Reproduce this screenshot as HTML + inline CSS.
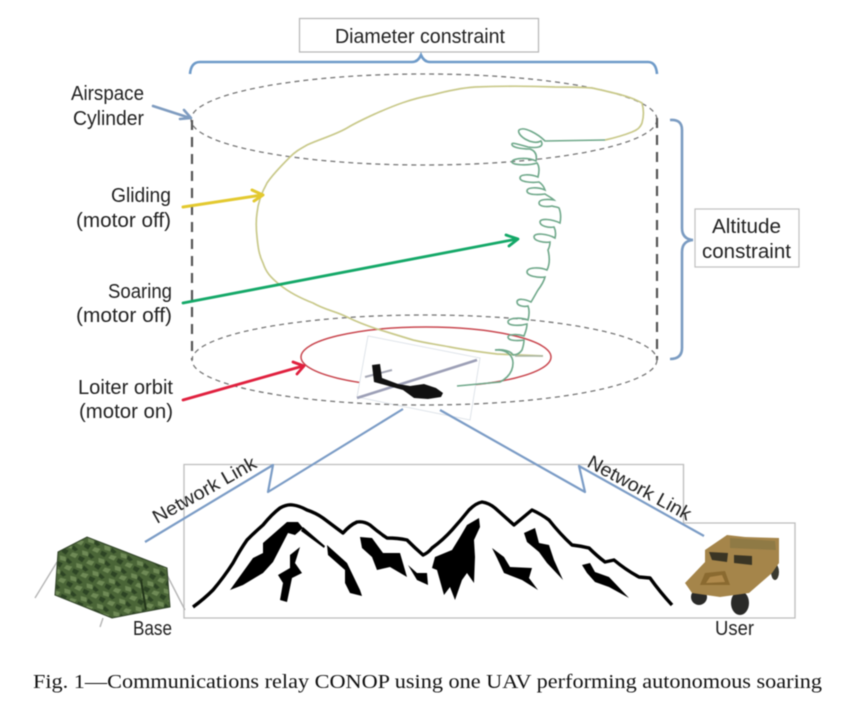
<!DOCTYPE html>
<html><head><meta charset="utf-8"><style>
html,body{margin:0;padding:0;background:#fff;width:864px;height:705px;overflow:hidden}
svg{display:block;filter:blur(.4px)}
text{font-family:"Liberation Sans",sans-serif;font-size:20px;fill:#222}
</style></head><body>
<svg width="864" height="705" viewBox="0 0 864 705" xmlns="http://www.w3.org/2000/svg">
<rect width="864" height="705" fill="#fff"/>
<!-- scene box -->
<path d="M184,618V464.5H683.5V523H795V618Z" fill="none" stroke="#bdbdbd" stroke-width="1.3"/>
<!-- boxes -->
<rect x="299.5" y="18.5" width="239" height="33.5" fill="#fff" stroke="#b5b5b5" stroke-width="1.2"/>
<text x="335" y="43" textLength="170" lengthAdjust="spacingAndGlyphs">Diameter constraint</text>
<rect x="695" y="209" width="104" height="58" fill="#fff" stroke="#c0c0c0" stroke-width="1.2"/>
<text x="712" y="233" textLength="69" lengthAdjust="spacingAndGlyphs">Altitude</text>
<text x="702" y="258" textLength="89" lengthAdjust="spacingAndGlyphs">constraint</text>
<!-- braces -->
<path d="M190,74Q191,62 200,62H412Q418,62 421,55Q424,62 430,62H648Q656,62 657,74" fill="none" stroke="#6f9bc9" stroke-width="2.6"/>
<path d="M670,120Q682,119 682,130V228Q682,239 693,240Q682,241 682,252V348Q682,359 670,359" fill="none" stroke="#7b9cc2" stroke-width="2.6"/>
<!-- top ellipse + verticals -->
<ellipse cx="424" cy="119.5" rx="233" ry="45.5" fill="none" stroke="#777" stroke-width="1.3" stroke-dasharray="5 4"/>
<path d="M192,120V360M657,118V360" fill="none" stroke="#555" stroke-width="2.2" stroke-dasharray="10 7"/>
<!-- red orbit -->
<ellipse cx="426" cy="357" rx="125" ry="30" fill="none" stroke="#c9474f" stroke-width="1.5"/>
<!-- aircraft image -->
<polygon points="368,336 480,358 470,420 357,397" fill="#fff" stroke="#dfe4ea" stroke-width="1"/>
<path d="M357,398L477,360" stroke="#9c9fb6" stroke-width="2.6" fill="none"/>
<path d="M365,377L392,370" stroke="#a5a7b5" stroke-width="2" fill="none"/>
<path d="M372,365L380,364L382,378L398,384L410,386L424,384L436,388L443,393L441,397L428,399L414,398L403,390L385,385L374,382Z" fill="#111"/>
<!-- bottom ellipse -->
<ellipse cx="424.5" cy="360" rx="232.5" ry="45" fill="none" stroke="#777" stroke-width="1.3" stroke-dasharray="5 4"/>
<!-- glide trajectory -->
<path d="M543,356L497,354C480,352 465,350 450,347C435,344 425,343 413,340C400,336 390,333 377,329C365,325 357,322 347,317C335,311 325,310 313,303C300,298 290,293 280,285C270,277 266,272 263,263C259,255 258,247 257,237C256,228 256,220 257,213C258,203 262,192 267,183C273,174 282,165 290,157C296,151 300,149 307,145C320,139 335,135 347,128C357,122 366,118 377,113C393,106 410,99 432,95C447,91 460,88 475,87C500,86 530,86 555,87C570,87 580,87 592,88C610,92 630,96 642,103C644,110 644,116 642,123C640,128 637,130 632,132C622,136 614,138 605,140" fill="none" stroke="#c9c98a" stroke-width="1.7"/>
<!-- spiral -->
<path d="M605,140L545,141C538,134 524,126 519,130C516,135 532,146 541,141C545,148 535,148 528,147C520,145 512,142 512,144C511,147 520,149 530,149C536,151 537,156 536,161C528,157 512,158 512,162C512,165 528,166 537,163C540,167 539,173 538,177C530,174 520,174 520,178C520,182 532,183 539,182C542,184 544,187 545,190C538,187 527,187 527,191C527,195 538,195 545,194C548,196 552,198 554,200C548,199 539,199 539,203C539,207 548,207 552,206C555,207 558,207 559,208C561,213 561,218 560,223C552,219 540,218 540,222C540,226 548,228 554,227C556,231 556,234 555,238C548,234 534,232 534,237C534,241 544,243 550,242C550,246 549,248 548,250C550,258 550,264 547,270C540,267 527,267 527,272C527,276 538,278 545,277C544,281 541,286 538,290C535,295 533,299 531,302C525,299 517,298 517,302C517,306 524,307 528,306C530,311 529,316 528,320C520,317 508,318 508,322C508,326 520,326 527,324C527,329 525,333 524,336C518,334 508,334 508,337C508,341 518,341 524,340C524,344 523,347 522,350C520,353 517,355 513,355C511,351 503,349 495,350" fill="none" stroke="#6fa88a" stroke-width="1.6"/>
<path d="M495,350C507,349 513,356 513,363C513,369 510,374 507,377C504,380 502,381 500,382L457,386" fill="none" stroke="#6fa88a" stroke-width="1.6"/>
<path d="M515,356H543" stroke="#a9b5a3" stroke-width="1.4" fill="none"/>
<!-- arrows -->
<g fill="none" stroke-linecap="round" stroke-linejoin="round">
<path d="M153,106L190,118M180,119L191,118L184,110" stroke="#7f9cc0" stroke-width="2.6"/>
<path d="M183,207L262,195M252,190L263,195L254,201" stroke="#e3c92f" stroke-width="3"/>
<path d="M183,303L517,239M506,235L518,239L509,246" stroke="#14a868" stroke-width="2.8"/>
<path d="M183,400L303,366M293,362L304,366L297,374" stroke="#e0203e" stroke-width="2.8"/>
</g>
<!-- labels -->
<text x="71" y="100" textLength="73" lengthAdjust="spacingAndGlyphs">Airspace</text>
<text x="73" y="125" textLength="71" lengthAdjust="spacingAndGlyphs">Cylinder</text>
<text x="111" y="202" textLength="60" lengthAdjust="spacingAndGlyphs">Gliding</text>
<text x="76" y="227" textLength="95" lengthAdjust="spacingAndGlyphs">(motor off)</text>
<text x="108" y="298" textLength="64" lengthAdjust="spacingAndGlyphs">Soaring</text>
<text x="76" y="322" textLength="96" lengthAdjust="spacingAndGlyphs">(motor off)</text>
<text x="78" y="394" textLength="95" lengthAdjust="spacingAndGlyphs">Loiter orbit</text>
<text x="79" y="418" textLength="94" lengthAdjust="spacingAndGlyphs">(motor on)</text>
<!-- network links -->
<path d="M145,542L273,465L268,492L403,409" fill="none" stroke="#7b9cc6" stroke-width="2.2" stroke-linejoin="round"/>
<path d="M440,410L585,492L579,466L704,536" fill="none" stroke="#7b9cc6" stroke-width="2.2" stroke-linejoin="round"/>
<text transform="translate(157,524) rotate(-29.5)" textLength="116" lengthAdjust="spacingAndGlyphs" style="font-size:19px">Network Link</text>
<text transform="translate(586,466) rotate(28.5)" textLength="115" lengthAdjust="spacingAndGlyphs" style="font-size:19px">Network Link</text>
<!-- mountains -->
<path d="M193,607Q204,599 213,590Q224,577 233,563Q240,550 247,540Q255,532 263,525Q272,514 280,508Q287,504 293,505Q300,506 307,510Q316,513 323,518L343,533Q350,525 357,522Q364,521 370,525Q378,532 387,538Q398,538 407,540Q415,548 423,555Q428,553 432,548Q443,540 452,530Q461,520 469,510Q476,503 482,502Q489,503 495,508L514,525L532,510Q541,514 549,520Q560,534 572,545Q581,546 589,548Q597,556 605,562L614,560Q626,570 639,577L650,578Q660,592 672,605" fill="none" stroke="#000" stroke-width="3.4" stroke-linejoin="round"/>
<g fill="#000">
<path d="M230,590L253,558L263,553L263,543L287,522L298,522L303,528L295,535L288,533L273,562L263,573L243,585Z"/>
<path d="M300,547L295,563L302,573L292,578L287,602L280,600L283,583L278,575L290,568L290,555Z"/>
<path d="M303,527L325,546L324,548L301,531Z"/>
<path d="M327,545L347,563L360,590L362,596L350,593L345,583L345,570L328,555Z"/>
<path d="M360,537L372,538L383,553L400,553L407,577L390,567L377,570L372,557L362,548Z"/>
<path d="M408,565L417,573L427,573L428,585L417,580Z"/>
<path d="M479,518L480,527L474,540L475,557L474,583L467,573L462,580L455,600L450,587L444,595L437,570L432,568L435,557L452,550L460,537L467,525Z"/>
<path d="M492,548L504,557L510,567L532,568L529,578L538,590L522,580L504,573L497,558Z"/>
<path d="M524,533L535,528L539,543L549,545L554,560L563,580L547,563L539,552L527,542Z"/>
<path d="M582,565L590,563L595,572L609,577L629,598L609,587L595,582L587,573Z"/>
</g>
<!-- tent -->
<defs>
<pattern id="c" width="18" height="14" patternUnits="userSpaceOnUse" patternTransform="rotate(25)">
<rect width="18" height="14" fill="#4a6537"/>
<path d="M1,2L7,1L9,5L3,6ZM11,8L17,7L16,12L10,12Z" fill="#6f8a56"/>
<path d="M9,1L15,3L13,6L9,5ZM1,8L7,8L6,13L1,12Z" fill="#2d4424"/>
</pattern>
</defs>
<path d="M57,562L35,598M167,575L185,610M103,618L100,627" stroke="#b5b5b5" stroke-width="1.4" fill="none"/>
<polygon points="58,552 87,537 167,568 170,607 143,612 112,618 55,595" fill="url(#c)" stroke="#33452a" stroke-width="1"/>
<path d="M141,580L146,610" stroke="#22351a" stroke-width="2"/>
<!-- humvee -->
<ellipse cx="699" cy="597" rx="8" ry="8" fill="#2a2a28"/>
<ellipse cx="740" cy="603" rx="9" ry="12" fill="#2a2a28"/>
<ellipse cx="775" cy="572" rx="4" ry="8" fill="#3a3a30"/>
<polygon points="705,550 727,535 745,537 779,538 779,563 772,573 749,593 720,597 692,593 685,583 705,562" fill="#a5854a"/>
<polygon points="709,552 728,553 727,562 712,560" fill="#3a3524"/>
<polygon points="734,555 752,556 752,565 734,563" fill="#3a3524"/>
<polygon points="705,573 725,571 730,585 700,585" fill="#8a6a30"/>
<polygon points="710,577 722,575 725,582 706,583" fill="#b08a4c"/>
<polygon points="730,538 775,541 776,550 730,548" fill="#8f7a45"/>
<!-- base/user -->
<text x="133" y="635" textLength="39" lengthAdjust="spacingAndGlyphs">Base</text>
<text x="715" y="635" textLength="39" lengthAdjust="spacingAndGlyphs">User</text>
<!-- caption -->
<text x="33" y="688" textLength="789" lengthAdjust="spacingAndGlyphs" style="font-family:'Liberation Serif',serif;font-size:20.5px;fill:#111">Fig. 1—Communications relay CONOP using one UAV performing autonomous soaring</text>
</svg>
</body></html>
